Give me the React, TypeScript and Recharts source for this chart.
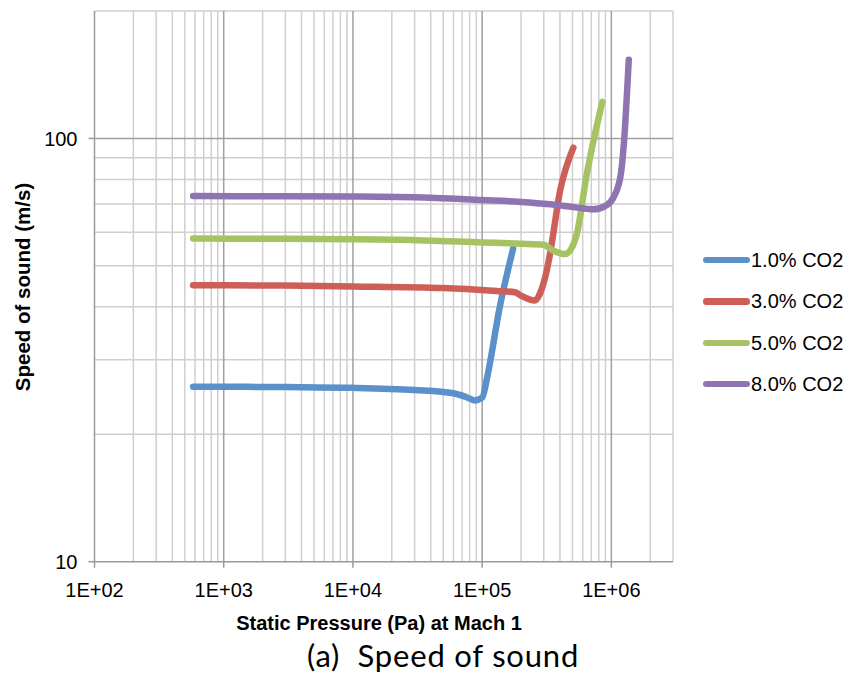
import React from "react";
import { LineChart, Line, XAxis, YAxis, ReferenceLine, Legend, Label } from "recharts";

// ---- data (static pressure Pa, speed of sound m/s) ----
const blueP = [580, 1000, 3000, 10000, 30000, 60000, 75000, 88000, 100000, 110000, 137000, 174000];
const blueV = [25.9, 25.9, 25.85, 25.75, 25.45, 25.0, 24.5, 24.05, 24.4, 27.5, 40, 55];

const redP = [580, 3000, 10000, 50000, 130000, 180000, 200000, 230000, 256000, 280000, 316000, 335000, 401000, 508000];
const redV = [45.0, 44.9, 44.7, 44.3, 43.6, 43.3, 42.5, 41.7, 41.4, 43.0, 48.7, 53.3, 75.2, 95.1];

const greenP = [580, 3000, 10000, 23000, 100000, 200000, 298000, 356000, 438000, 500000, 540000, 645000, 851000];
const greenV = [58.0, 57.9, 57.8, 57.6, 56.8, 56.4, 56.1, 54.3, 53.3, 55.5, 59.4, 82.2, 122];

const purpleP = [580, 3000, 10000, 30000, 100000, 200000, 335000, 500000, 726000, 900000, 1036000, 1183000, 1254000, 1364000];
const purpleV = [73.1, 73.0, 72.9, 72.6, 71.5, 70.8, 69.9, 68.9, 68.0, 69.3, 72.4, 82.2, 98.5, 153.5];

const seriesNames = ["1.0% CO2", "3.0% CO2", "5.0% CO2", "8.0% CO2"];
const seriesColors = ["#5A91CA", "#CE5F58", "#A6C363", "#8E75B2"];

// ---- axes ----
const xTicks = [100, 1000, 10000, 100000, 1000000];
const xTickLabels = ["1E+02", "1E+03", "1E+04", "1E+05", "1E+06"];
const yTicks = [10, 100];
const yTickLabels = ["10", "100"];

const xMajorGrid = [1000, 10000, 100000, 1000000];
const xMinorGrid = [
  200, 300, 400, 500, 600, 700, 800, 900,
  2000, 3000, 4000, 5000, 6000, 7000, 8000, 9000,
  20000, 30000, 40000, 50000, 60000, 70000, 80000, 90000,
  200000, 300000, 400000, 500000, 600000, 700000, 800000, 900000,
  2000000, 3000000,
];
const yMajorGrid = [100];
const yMinorGrid = [20, 30, 40, 50, 60, 70, 80, 90, 200];

const toData = (ps: number[], vs: number[]) => ps.map((p, i) => ({ p, v: vs[i] }));
const seriesData = [
  toData(blueP, blueV),
  toData(redP, redV),
  toData(greenP, greenV),
  toData(purpleP, purpleV),
];

const FONT = "'Liberation Sans', Arial, sans-serif";

const renderLegend = () => (
  <div style={{ fontFamily: FONT, width: 150 }}>
    {seriesNames.map((n, i) => (
      <div key={n} style={{ display: "flex", alignItems: "center", height: 41.4 }}>
        <span
          style={{
            display: "inline-block",
            width: 47,
            height: 6.5,
            borderRadius: 3.25,
            background: seriesColors[i],
          }}
        />
        <span style={{ fontSize: 20, lineHeight: "20px", color: "#000", marginLeft: 1 }}>{n}</span>
      </div>
    ))}
  </div>
);

export default function App() {
  return (
    <div style={{ position: "absolute", left: 0, top: 0, width: 852, height: 673, background: "#fff" }}>
      <LineChart width={852} height={673} margin={{ top: 11, right: 29, bottom: 0, left: 0 }}>
        <XAxis
          dataKey="p"
          type="number"
          scale="log"
          domain={[100, 3000000]}
          allowDataOverflow
          ticks={xTicks}
          tickFormatter={(v: number) => xTickLabels[xTicks.indexOf(v)] ?? ""}
          height={111.3}
          tickSize={6}
          tickMargin={15}
          axisLine={{ stroke: "#9a9a9a", strokeWidth: 1.5 }}
          tickLine={{ stroke: "#9a9a9a", strokeWidth: 1.5 }}
          tick={{ fontSize: 20, fill: "#000", fontFamily: FONT }}
        >
          <Label
            content={() => (
              <g>
                <text x={379} y={630} textAnchor="middle" fontSize={20} fontWeight="bold" fontFamily={FONT} fill="#000">
                  Static Pressure (Pa) at Mach 1
                </text>
                <text
                  x={443}
                  y={667}
                  textAnchor="middle"
                  fontSize={31}
                  letterSpacing={0.8}
                  fontFamily="Lato, 'Open Sans', sans-serif"
                  fill="#000"
                  xmlSpace="preserve"
                >
                  (a)  Speed of sound
                </text>
              </g>
            )}
          />
        </XAxis>
        <YAxis
          type="number"
          scale="log"
          domain={[10, 200]}
          allowDataOverflow
          ticks={yTicks}
          tickFormatter={(v: number) => yTickLabels[yTicks.indexOf(v)] ?? ""}
          width={94.5}
          tickSize={6}
          tickMargin={11}
          axisLine={{ stroke: "#9a9a9a", strokeWidth: 1.5 }}
          tickLine={{ stroke: "#9a9a9a", strokeWidth: 1.5 }}
          tick={{ fontSize: 20, fill: "#000", fontFamily: FONT }}
        >
          <Label
            content={() => (
              <text
                x={29.5}
                y={287}
                transform="rotate(-90 29.5 287)"
                textAnchor="middle"
                fontSize={20.5}
                fontWeight="bold"
                fontFamily={FONT}
                fill="#000"
              >
                Speed of sound (m/s)
              </text>
            )}
          />
        </YAxis>
        {xMinorGrid.map((x) => (
          <ReferenceLine key={"xm" + x} x={x} stroke="#cfcfcf" strokeWidth={1.5} ifOverflow="visible" />
        ))}
        {yMinorGrid.map((y) => (
          <ReferenceLine key={"ym" + y} y={y} stroke="#cfcfcf" strokeWidth={1.5} ifOverflow="visible" />
        ))}
        {xMajorGrid.map((x) => (
          <ReferenceLine key={"xM" + x} x={x} stroke="#a0a0a0" strokeWidth={1.5} />
        ))}
        {yMajorGrid.map((y) => (
          <ReferenceLine key={"yM" + y} y={y} stroke="#a0a0a0" strokeWidth={1.5} />
        ))}
        {seriesData.map((d, i) => (
          <Line
            key={seriesNames[i]}
            data={d}
            dataKey="v"
            name={seriesNames[i]}
            type="monotone"
            stroke={seriesColors[i]}
            strokeWidth={6.5}
            strokeLinecap="round"
            strokeLinejoin="round"
            dot={false}
            activeDot={false}
            isAnimationActive={false}
          />
        ))}
        <Legend
          layout="vertical"
          align="right"
          verticalAlign="middle"
          content={renderLegend}
          wrapperStyle={{ position: "absolute", left: 703, top: 239.3, width: 150 }}
        />
      </LineChart>
    </div>
  );
}
